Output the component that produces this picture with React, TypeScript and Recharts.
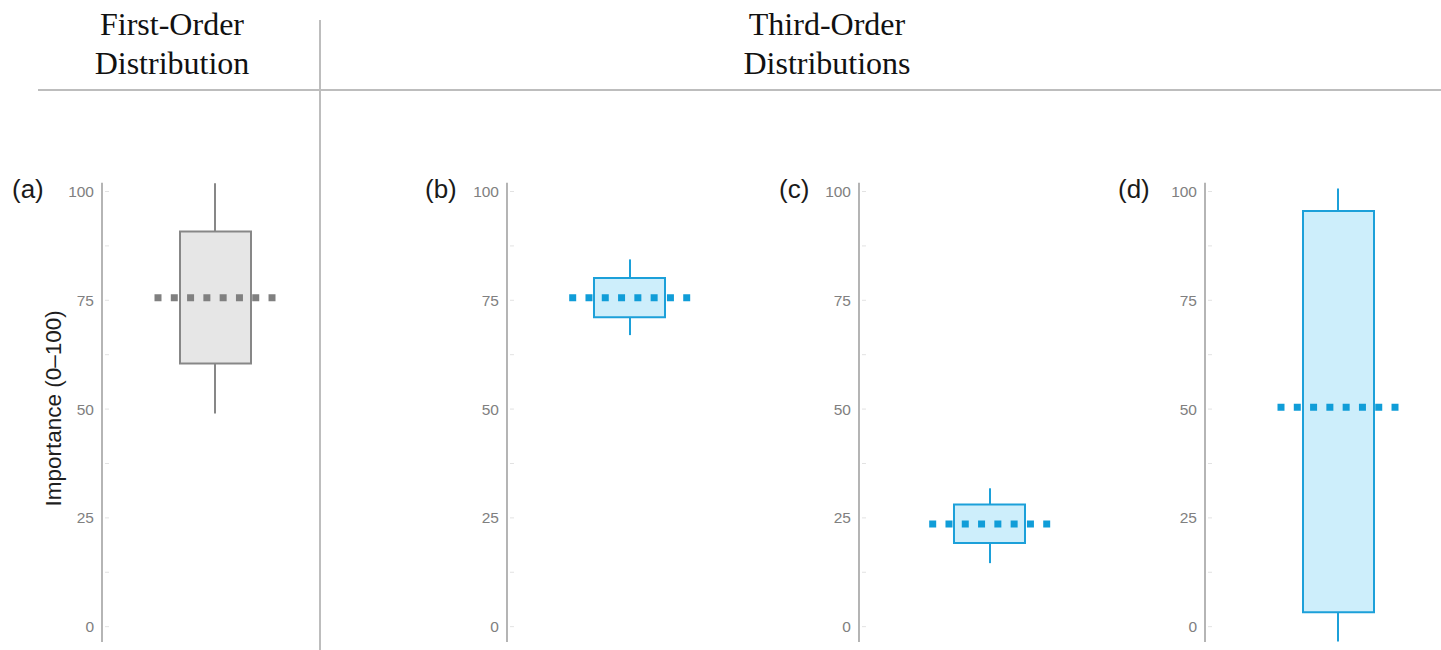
import { ComposedChart, Bar, Scatter, XAxis, YAxis } from "recharts";

// values, one entry per panel
const panelLabels = ["(a)", "(b)", "(c)", "(d)"];
const whiskerLow = [49, 67, 14.6, -3.4];
const boxLow = [60.5, 71.1, 19.2, 3.3];
const medians = [75.6, 75.6, 23.6, 50.4];
const boxHigh = [90.8, 80.1, 28.1, 95.5];
const whiskerHigh = [101.9, 84.4, 31.8, 100.7];

const yTicks = [0, 12.5, 25, 37.5, 50, 62.5, 75, 87.5, 100];
const yLabel = "Importance (0–100)";
const firstHeader = ["First-Order", "Distribution"];
const thirdHeader = ["Third-Order", "Distributions"];

const grey = { stroke: "#878787", fill: "#e6e6e6", dots: "#808080" };
const blue = { stroke: "#1ca0d9", fill: "#cdeefb", dots: "#109dd8" };

const layout = [
  { axisX: 102, center: 215, yWidth: 98, colors: grey, labelX: 12 },
  { axisX: 507.3, center: 630, yWidth: 60, colors: blue, labelX: 425 },
  { axisX: 859.3, center: 990, yWidth: 60, colors: blue, labelX: 779 },
  { axisX: 1205, center: 1338, yWidth: 60, colors: blue, labelX: 1118 },
];

const sans = "'Liberation Sans', Arial, sans-serif";
const serif = "'Liberation Serif', 'Times New Roman', serif";

function YTick(props: any) {
  const { x, y, payload } = props;
  const v = payload.value;
  return (
    <g>
      <line x1={x + 3} x2={x + 7} y1={y} y2={y} stroke="#e2e2e2" strokeWidth={1} />
      {v % 25 === 0 && (
        <text
          x={x - 8}
          y={y}
          dy="0.36em"
          textAnchor="end"
          fill="#808080"
          fontSize={15.5}
          fontFamily={sans}
        >
          {v}
        </text>
      )}
    </g>
  );
}

function Panel({ i }: { i: number }) {
  const L = layout[i];
  const c = L.colors;
  const plotW = 2 * (L.center - L.axisX);
  const data = [
    {
      name: panelLabels[i],
      whisker: [whiskerLow[i], whiskerHigh[i]],
      box: [boxLow[i], boxHigh[i]],
      median: medians[i],
    },
  ];
  const medianShape = (p: any) => (
    <line
      x1={p.cx - 60.5}
      x2={p.cx + 60.5}
      y1={p.cy}
      y2={p.cy}
      stroke={c.dots}
      strokeWidth={7}
      strokeDasharray="7 9.29"
    />
  );
  return (
    <div style={{ position: "absolute", left: L.axisX - L.yWidth, top: 150 }}>
      <ComposedChart
        width={L.yWidth + plotW}
        height={510}
        data={data}
        margin={{ top: 32.8, right: 0, bottom: 18.1, left: 0 }}
      >
        <XAxis xAxisId="w" dataKey="name" hide />
        <XAxis xAxisId="b" dataKey="name" hide />
        <YAxis
          type="number"
          domain={[-3.5, 102]}
          allowDataOverflow
          ticks={yTicks}
          width={L.yWidth}
          tickLine={false}
          tickSize={0}
          tickMargin={0}
          axisLine={{ stroke: "#9c9c9c", strokeWidth: 1.5 }}
          tick={<YTick />}
          interval={0}
          label={
            i === 0
              ? {
                  value: yLabel,
                  angle: -90,
                  position: "center",
                  dy: -4,
                  fill: "#1e1e1e",
                  fontSize: 22.5,
                  fontFamily: sans,
                }
              : undefined
          }
        />
        <Bar
          xAxisId="w"
          dataKey="whisker"
          barSize={2}
          fill={c.stroke}
          isAnimationActive={false}
        />
        <Bar
          xAxisId="b"
          dataKey="box"
          barSize={71}
          fill={c.fill}
          stroke={c.stroke}
          strokeWidth={2}
          isAnimationActive={false}
        />
        <Scatter
          xAxisId="b"
          dataKey="median"
          shape={medianShape}
          isAnimationActive={false}
        />
      </ComposedChart>
    </div>
  );
}

export default function App() {
  return (
    <div
      style={{
        position: "absolute",
        left: 0,
        top: 0,
        width: 1441,
        height: 650,
        background: "#fff",
        overflow: "hidden",
      }}
    >
      <svg
        width={1441}
        height={650}
        style={{ position: "absolute", left: 0, top: 0 }}
      >
        <line x1={38} x2={1441} y1={90} y2={90} stroke="#bdbdbd" strokeWidth={2} />
        <line x1={320} x2={320} y1={20} y2={650} stroke="#bdbdbd" strokeWidth={2} />
        {firstHeader.map((t, k) => (
          <text
            key={t}
            x={172}
            y={35 + k * 39}
            textAnchor="middle"
            fontFamily={serif}
            fontSize={32}
            fill="#111"
          >
            {t}
          </text>
        ))}
        {thirdHeader.map((t, k) => (
          <text
            key={t}
            x={827}
            y={35 + k * 39}
            textAnchor="middle"
            fontFamily={serif}
            fontSize={32}
            fill="#111"
          >
            {t}
          </text>
        ))}
        {panelLabels.map((t, k) => (
          <text
            key={t}
            x={layout[k].labelX}
            y={197.5}
            fontFamily={sans}
            fontSize={26}
            fill="#1a1a1a"
          >
            {t}
          </text>
        ))}
      </svg>
      {layout.map((_, i) => (
        <Panel key={i} i={i} />
      ))}
    </div>
  );
}
